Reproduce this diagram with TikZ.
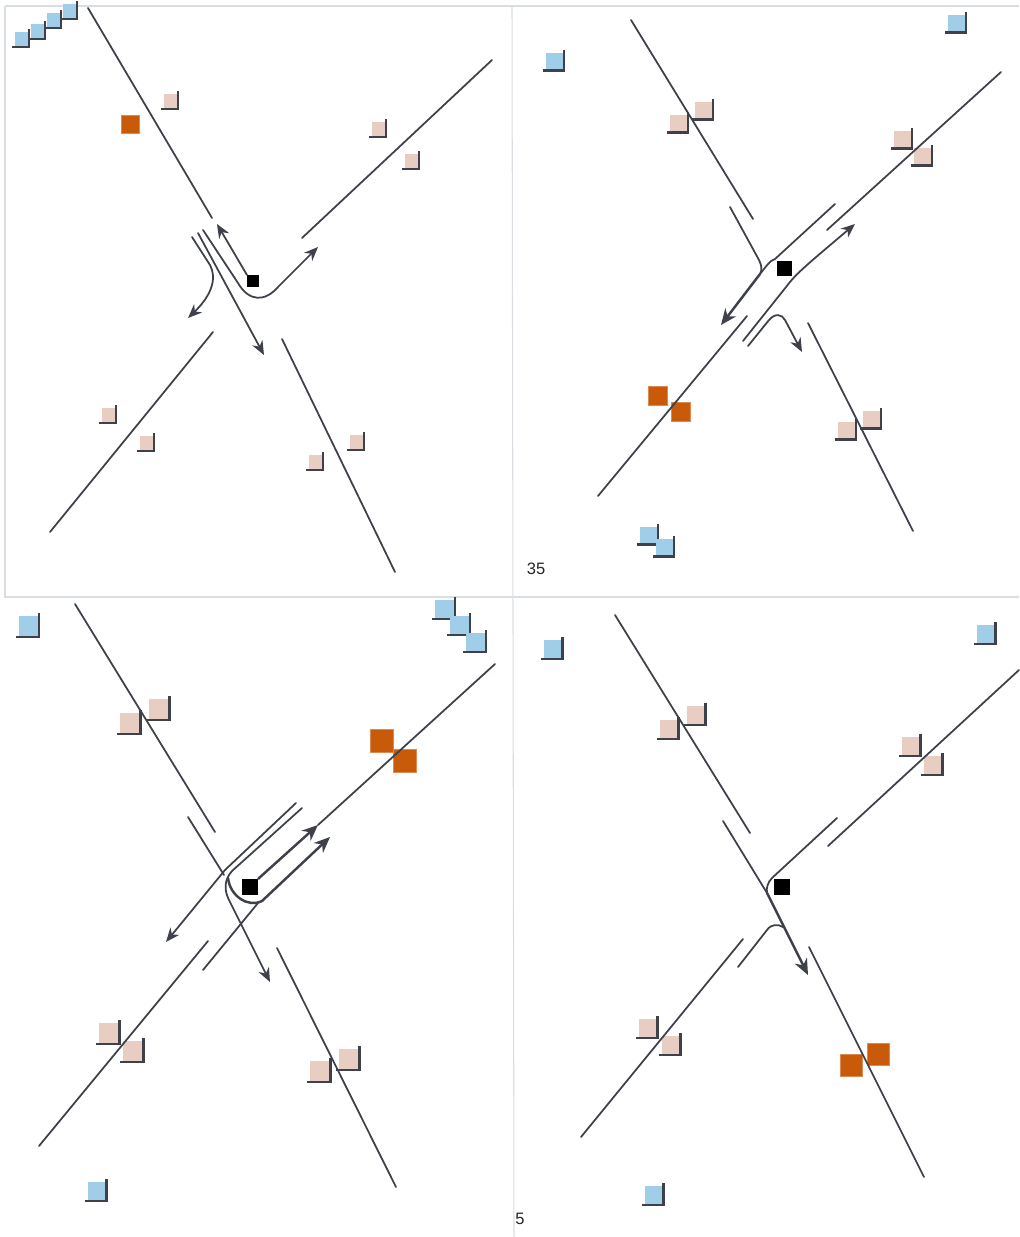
\documentclass[tikz,border=0pt]{standalone}
\usepackage{fontspec}
\setmainfont{Liberation Sans}
\usepackage{xcolor}
\usetikzlibrary{arrows.meta}
\definecolor{roadgrey}{RGB}{62,64,74}
\definecolor{vehblue}{RGB}{160,205,232}
\definecolor{vehpink}{RGB}{232,205,195}
\definecolor{vehorange}{RGB}{200,90,10}
\definecolor{panelgrey}{RGB}{216,222,226}

\begin{document}
\begin{tikzpicture}[x=0.02cm, y=-0.02cm,
  road/.style={draw=roadgrey, line width=1pt, line cap=round},
  flow/.style={road, -{Stealth[length=2.8mm, width=2.3mm]}},
  heavyflow/.style={road, line width=1.4pt, -{Stealth[length=3.2mm, width=2.7mm]}},
  panel/.style={draw=panelgrey, line width=0.6pt},
  veh/.style={inner sep=0pt, outer sep=0pt},
  bluecar/.style={veh, fill=vehblue},
  pinkcar/.style={veh, fill=vehpink},
  orangecar/.style={veh, minimum size=#1, draw=vehorange!70!white, line width=0.3pt, fill=vehorange},
  signal/.style={veh, minimum size=#1, fill=black},
  label/.style={font=\fontsize{9.4}{11}\selectfont, text=black!85, inner sep=0pt}]
  \useasboundingbox (0,0) rectangle (1019,1237);
  \draw[panel] (5,6) -- (1019,6);
  \draw[panel] (5,6) -- (5,597) -- (1019,597);
  \draw[panel] (512,6) -- (514,1237);

  % vehicles: x/y/kind/size
  \foreach \vx/\vy/\vkind/\vsize [count=\i] in {
    22/40/bluecar/2.7mm, 38/32/bluecar/2.7mm, 54/21/bluecar/2.7mm, 70/12/bluecar/2.7mm,
    171/102/pinkcar/2.7mm, 379/130/pinkcar/2.7mm, 412/162/pinkcar/2.7mm, 109/416/pinkcar/2.7mm,
    147/444/pinkcar/2.7mm, 357/443/pinkcar/2.7mm, 316/463/pinkcar/2.7mm,
    555/62/bluecar/3.4mm, 957/24/bluecar/3.4mm, 649/536/bluecar/3.4mm, 665/548/bluecar/3.4mm,
    679/124/pinkcar/3.4mm, 704/111/pinkcar/3.4mm, 903/140/pinkcar/3.4mm, 923/157/pinkcar/3.4mm,
    847/431/pinkcar/3.4mm, 872/420/pinkcar/3.4mm,
    29/627/bluecar/3.9mm, 445/610/bluecar/3.7mm, 460/626/bluecar/3.7mm, 476/643/bluecar/3.7mm, 97/1192/bluecar/3.6mm,
    130/724/pinkcar/4mm, 159/710/pinkcar/4mm, 109/1034/pinkcar/4mm, 133/1052/pinkcar/4mm,
    320/1072/pinkcar/4mm, 349/1060/pinkcar/4mm,
    553/650/bluecar/3.6mm, 986/635/bluecar/3.6mm, 654/1196/bluecar/3.6mm,
    669/730/pinkcar/3.6mm, 696/716/pinkcar/3.6mm, 911/747/pinkcar/3.6mm, 933/766/pinkcar/3.6mm,
    648/1029/pinkcar/3.6mm, 671/1046/pinkcar/3.6mm}
  {
    \node[\vkind, minimum size=\vsize] (veh\i) at (\vx-0.5,\vy-1) {};
    \draw[roadgrey, line width=1.3pt] ([shift={(1.1,-3)}]veh\i.north east) -- ([shift={(1.1,1.1)}]veh\i.south east) -- ([shift={(-3,1.1)}]veh\i.south west);
  }
  \node[orangecar=3.6mm] (queue1) at (130,124) {};
  \node[orangecar=3.9mm] (queue2) at (658,396) {};
  \node[orangecar=3.9mm] (queue3) at (681,412) {};
  \node[orangecar=4.6mm] (queue4) at (382,741) {};
  \node[orangecar=4.6mm] (queue5) at (405,761) {};
  \node[orangecar=4.4mm] (queue6) at (851,1065) {};
  \node[orangecar=4.4mm] (queue7) at (878,1054) {};
  \node[signal=2.4mm] (light1) at (253,281) {};
  \node[signal=3mm] (light2) at (784,268) {};
  \node[signal=3.3mm] (light3) at (250,887) {};
  \node[signal=3.2mm] (light4) at (782,887) {};

  \node[label] (phase35) at (536,569) {35};
  \node[label] (phase5) at (520,1219) {5};

  % top left
  \draw[road] (88,8) -- (212,218);
  \draw[flow] (light1.north west) -- (217,224);
  \draw[road] (492,60) -- (302,238);
  \draw[road] (50,532) -- (213,332);
  \draw[road] (282,339) -- (395,572);
  \draw[flow] (192,237) -- (210,265) .. controls (217,278) and (212,295) .. (188,318);
  \draw[flow] (198,233) -- (264,355);
  \draw[flow] (203,230) -- (238,283) .. controls (249,302) and (265,302) .. (278,287) -- (318,247);

  % top right
  \draw[road] (631,20) -- (753,219);
  \draw[road] (730,207) -- (759,260) .. controls (762,266) and (762,270) .. (760,274);
  \draw[heavyflow] (760,274) -- (721,325);
  \draw[road] (835,204) -- (775,259) .. controls (770,260) and (765,268) .. (760,274);
  \draw[road] (1001,72) -- (827,230);
  \draw[flow] (743,341) -- (790,282) .. controls (800,270) and (815,258) .. (855,224);
  \draw[flow] (748,346) -- (769,320) .. controls (775,313) and (782,314) .. (785,320) -- (802,352);
  \draw[road] (598,496) -- (747,316);
  \draw[road] (808,323) -- (913,531);

  % bottom left
  \draw[road] (75,604) -- (215,832);
  \draw[road] (188,817) -- (224,875);
  \draw[flow] (296,803) -- (225,870) -- (166,942);
  \draw[flow] (302,808) -- (232,871) .. controls (224,880) and (224,890) .. (229,900) -- (270,982);
  \draw[road] (203,970) -- (258,903);
  \draw[heavyflow] (228,878) .. controls (230,896) and (248,908) .. (262,901) -- (330,837);
  \draw[heavyflow] (light3.north east) -- (318,825);
  \draw[road] (318,825) -- (495,664);
  \draw[road] (39,1146) -- (208,941);
  \draw[road] (277,948) -- (396,1187);

  % bottom right
  \draw[road] (615,615) -- (750,833);
  \draw[road] (723,821) -- (767,893);
  \draw[heavyflow] (767,893) -- (808,975);
  \draw[road] (837,818) -- (772,878) .. controls (768,882) and (766,888) .. (767,893);
  \draw[road] (1019,670) -- (828,846);
  \draw[road] (581,1137) -- (743,939);
  \draw[road] (738,967) -- (767,930) .. controls (771,924) and (778,924) .. (783,927);
  \draw[road] (809,947) -- (924,1177);
\end{tikzpicture}
\end{document}
